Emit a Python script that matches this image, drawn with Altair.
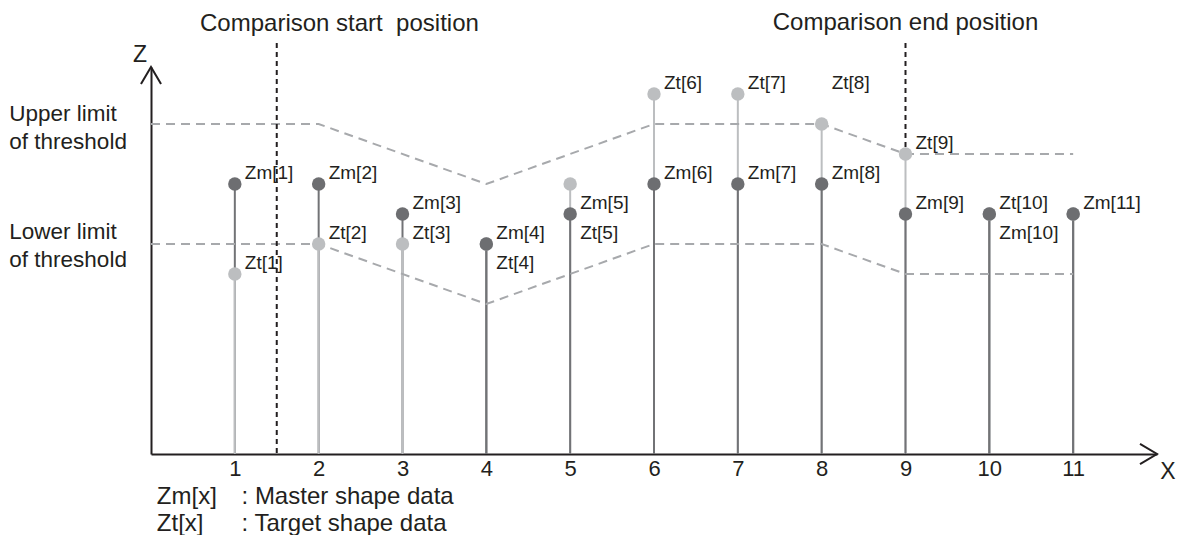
import altair as alt
import pandas as pd

# ---------------- data ----------------
positions = list(range(1, 12))
master_z = [9, 9, 8, 7, 8, 9, 9, 9, 8, 8, 8]
target_z = [6, 7, 7, 7, 9, 12, 12, 11, 10, 8, 8]

upper_x = [0, 2, 4, 6, 8, 9, 11]
upper_z = [11, 11, 9, 11, 11, 10, 10]
lower_x = [0, 2, 4, 6, 8, 9, 11]
lower_z = [7, 7, 5, 7, 7, 6, 6]

label_text = ["Zm[1]", "Zt[1]", "Zm[2]", "Zt[2]", "Zm[3]", "Zt[3]",
              "Zm[4]", "Zt[4]", "Zm[5]", "Zt[5]", "Zm[6]", "Zt[6]",
              "Zm[7]", "Zt[7]", "Zm[8]", "Zt[8]", "Zm[9]", "Zt[9]",
              "Zt[10]", "Zm[10]", "Zm[11]"]
label_x = [1, 1, 2, 2, 3, 3, 4, 4, 5, 5, 6, 6, 7, 7, 8, 8, 9, 9, 10, 10, 11]
label_z = [9.37, 6.38, 9.37, 7.37, 8.37, 7.37, 7.37, 6.38, 8.37, 7.37,
           9.37, 12.37, 9.37, 12.37, 9.37, 12.37, 8.37, 10.37, 8.37, 7.38, 8.37]

start_x = 1.5
end_x = 9
marker_top = 13.7

title_text = ["Comparison start \u00a0position", "Comparison end position"]
title_x = [0.585, 9]
title_z = [14.1, 14.13]

threshold_text = ["Upper limit", "of threshold", "Lower limit", "of threshold"]
threshold_text_z = [11.1, 10.17, 7.17, 6.23]
threshold_text_x = -1.69

legend_key = ["Zm[x]", "Zt[x]"]
legend_desc = [": Master shape data", ": Target shape data"]
legend_z = [-1.68, -2.58]
legend_key_x = 0.07
legend_desc_x = 1.08

axis_name_text = ["Z", "X"]
axis_name_x = [-0.13, 12.13]
axis_name_z = [13.3, -0.6]

X_MAX = 12
Z_MAX = 12.9

DARK_PT = "#6d6e71"
DARK_STEM = "#727376"
LIGHT = "#bcbec0"
DASH = "#a7a9ac"
INK = "#231f20"
FONT = "Liberation Sans"

# ---------------- tables ----------------
rows_top, rows_bot = [], []
for p, zm, zt in zip(positions, master_z, target_z):
    rows_top.append({"x": p, "base": 0, "z": max(zm, zt), "kind": "Zt" if zt > zm else "Zm"})
    rows_bot.append({"x": p, "base": 0, "z": min(zm, zt), "kind": "Zt" if zt < zm else "Zm"})
stem_top = pd.DataFrame(rows_top)
stem_bot = pd.DataFrame(rows_bot)
pts_m = pd.DataFrame({"x": positions, "z": master_z})
pts_t = pd.DataFrame({"x": positions, "z": target_z})
thr = pd.DataFrame({"x": upper_x + lower_x, "z": upper_z + lower_z,
                    "line": ["upper"] * len(upper_x) + ["lower"] * len(lower_x)})
labels = pd.DataFrame({"x": label_x, "z": label_z, "t": label_text})
cmp_df = pd.DataFrame({"x": [start_x, end_x], "z": [marker_top, marker_top],
                       "z2": [0, target_z[positions.index(end_x)]]})
thr_txt = pd.DataFrame({"x": [threshold_text_x] * 4, "z": threshold_text_z, "t": threshold_text})
leg = pd.DataFrame({"x": [legend_key_x] * 2 + [legend_desc_x] * 2,
                    "z": legend_z + legend_z, "t": legend_key + legend_desc})
titles = pd.DataFrame({"x": title_x, "z": title_z, "t": title_text})
names = pd.DataFrame({"x": axis_name_x, "z": axis_name_z, "t": axis_name_text})

xscale = alt.Scale(domain=[0, X_MAX], nice=False, zero=False)
zscale = alt.Scale(domain=[0, Z_MAX], nice=False, zero=False)
color_scale = alt.Scale(domain=["Zm", "Zt"], range=[DARK_STEM, LIGHT])

x_axis = alt.Axis(values=positions, ticks=False, grid=False, domainColor=INK,
                  domainWidth=2, labelFontSize=22, labelColor=INK, labelFont=FONT,
                  labelPadding=4, labelFlush=False, title=None)
y_axis = alt.Axis(labels=False, ticks=False, grid=False, domainColor=INK,
                  domainWidth=2, title=None)

X = alt.X("x:Q", scale=xscale, axis=x_axis, title=None)
Y = alt.Y("z:Q", scale=zscale, axis=y_axis, title=None)
Yb = alt.Y("base:Q", scale=zscale, axis=y_axis, title=None)

stems_top = alt.Chart(stem_top).mark_rule(strokeWidth=2).encode(
    x=X, y=Yb, y2="z:Q",
    color=alt.Color("kind:N", scale=color_scale, legend=None))
stems_bot = alt.Chart(stem_bot).mark_rule(strokeWidth=2).encode(
    x=X, y=Yb, y2="z:Q",
    color=alt.Color("kind:N", scale=color_scale, legend=None))

thr_lines = alt.Chart(thr).mark_line(strokeWidth=2, strokeDash=[9, 6], color=DASH).encode(
    x=X, y=Y, detail="line:N")

cmp_lines = alt.Chart(cmp_df).mark_rule(strokeWidth=2, strokeDash=[5, 4], color=INK).encode(
    x=X, y=Y, y2="z2:Q")

pt_t = alt.Chart(pts_t).mark_circle(size=180, color=LIGHT, opacity=1).encode(x=X, y=Y)
pt_m = alt.Chart(pts_m).mark_circle(size=180, color=DARK_PT, opacity=1).encode(x=X, y=Y)

lbl = alt.Chart(labels).mark_text(align="left", baseline="middle", dx=10, fontSize=19,
                                  font=FONT, color=INK).encode(x=X, y=Y, text="t:N")

thr_lbl = alt.Chart(thr_txt).mark_text(align="left", baseline="alphabetic", fontSize=22.5,
                                       font=FONT, color=INK).encode(x=X, y=Y, text="t:N")
leg_lbl = alt.Chart(leg).mark_text(align="left", baseline="alphabetic", fontSize=24,
                                   font=FONT, color=INK).encode(x=X, y=Y, text="t:N")

title_start = alt.Chart(titles.iloc[[0]]).mark_text(align="left", baseline="alphabetic",
                                                    fontSize=24, font=FONT, color=INK).encode(
    x=X, y=Y, text="t:N")
title_end = alt.Chart(titles.iloc[[1]]).mark_text(align="center", baseline="alphabetic",
                                                  fontSize=24, font=FONT, color=INK).encode(
    x=X, y=Y, text="t:N")

ax_names = alt.Chart(names).mark_text(align="center", baseline="middle", fontSize=23,
                                      font=FONT, color=INK).encode(x=X, y=Y, text="t:N")

arrow_r = alt.Chart(pd.DataFrame({"x": [X_MAX], "z": [0]})).mark_point(
    shape="M -1 -0.59 L 0 0 L -1 0.59", size=1156, filled=False, strokeWidth=2,
    color=INK, opacity=1).encode(x=X, y=Y)
arrow_u = alt.Chart(pd.DataFrame({"x": [0], "z": [Z_MAX]})).mark_point(
    shape="M -0.59 1 L 0 0 L 0.59 1", size=1156, filled=False, strokeWidth=2,
    color=INK, opacity=1).encode(x=X, y=Y)

chart = alt.layer(
    stems_top, stems_bot, thr_lines, cmp_lines, pt_t, pt_m, lbl, thr_lbl, leg_lbl,
    title_start, title_end, ax_names, arrow_r, arrow_u
).properties(
    width=1006, height=387,
    autosize=alt.AutoSizeParams(type="none"),
    padding={"left": 143, "top": 59, "right": 19, "bottom": 81},
).configure_view(stroke=None)

chart.save("out.html", embed_options={"renderer": "svg", "actions": False})
